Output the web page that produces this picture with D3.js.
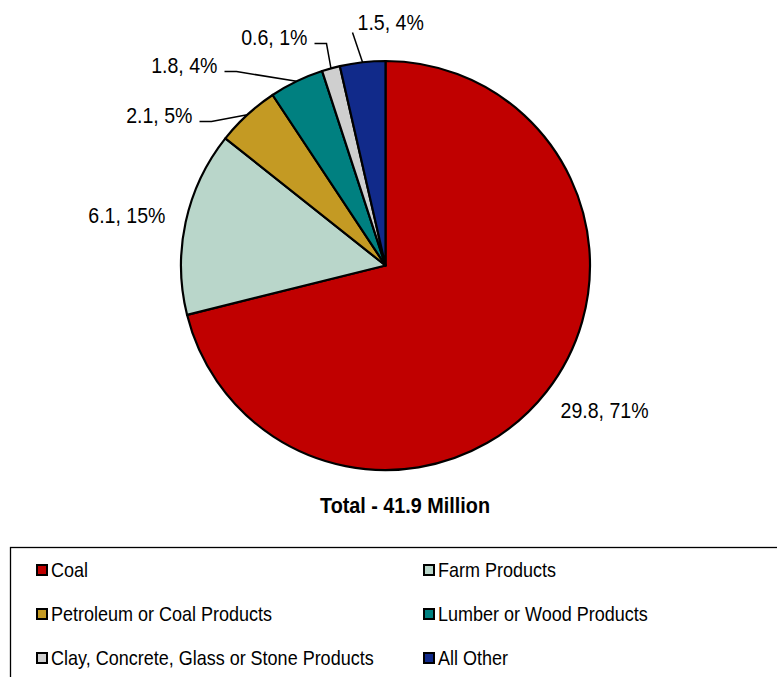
<!DOCTYPE html>
<html>
<head>
<meta charset="utf-8">
<script src="https://cdn.jsdelivr.net/npm/d3@7"></script>
<style>
  html, body { margin: 0; padding: 0; background: #fff; }
  svg { display: block; font-family: "Liberation Sans", Arial, sans-serif; }
</style>
</head>
<body>
<svg id="chart" width="777" height="677"></svg>
<script>
// ---- data ----
const categories = ["Coal", "Farm Products", "Petroleum or Coal Products",
                    "Lumber or Wood Products", "Clay, Concrete, Glass or Stone Products", "All Other"];
const values = [29.8, 6.1, 2.1, 1.8, 0.6, 1.5];
const percents = ["71%", "15%", "5%", "4%", "1%", "4%"];
const colors = ["#C00000", "#B9D6CA", "#C49A23", "#008080", "#CFCFCF", "#112A8A"];
const totalLabel = "Total - 41.9 Million";

// ---- layout (label placement relative to pie centre) ----
const labelLayout = [
  { dx: 175, dy: 152, anchor: "start", leader: "none" },
  { dx: -220, dy: -43, anchor: "end", leader: "none" },
  { dx: -193, dy: -143, anchor: "end", leader: "elbow" },
  { dx: -168, dy: -193, anchor: "end", leader: "elbow" },
  { dx: -78, dy: -221, anchor: "end", leader: "elbow" },
  { dx: -28, dy: -236, anchor: "start", leader: "straight" }
];

const svg = d3.select("#chart");
const cx = 385.5, cy = 265.5, r = 204.5;

const g = svg.append("g").attr("transform", `translate(${cx},${cy})`);

const data = categories.map((c, i) => ({ name: c, value: values[i], pct: percents[i], color: colors[i], lay: labelLayout[i] }));

const pie = d3.pie().value(d => d.value).sort(null).startAngle(0).endAngle(2 * Math.PI);
const arcs = pie(data);
const arc = d3.arc().innerRadius(0).outerRadius(r);

g.selectAll("path.slice").data(arcs).enter().append("path")
  .attr("class", "slice")
  .attr("d", arc)
  .attr("fill", d => d.data.color)
  .attr("stroke", "#000")
  .attr("stroke-width", 2.2)
  .attr("stroke-linejoin", "round");

// leader lines
const arcPoint = a => {
  const m = (a.startAngle + a.endAngle) / 2;
  return [r * Math.sin(m), -r * Math.cos(m)];
};
arcs.forEach(a => {
  const L = a.data.lay;
  const p = arcPoint(a);
  let pts = null;
  if (L.leader === "elbow") {
    const s = [L.dx + 7, L.dy - 1];
    const e = [s[0] + 12, s[1]];
    pts = [s, e, p];
  } else if (L.leader === "straight") {
    pts = [[L.dx - 5, L.dy + 3], p];
  }
  if (pts) {
    g.append("path")
      .attr("d", d3.line()(pts))
      .attr("fill", "none")
      .attr("stroke", "#000")
      .attr("stroke-width", 1.5);
  }
});

// labels
arcs.forEach(a => {
  const L = a.data.lay;
  g.append("text")
    .attr("transform", `translate(${L.dx},${L.dy}) scale(0.91,1)`)
    .attr("text-anchor", L.anchor)
    .attr("font-size", 21.5)
    .attr("fill", "#000")
    .text(`${d3.format(".1f")(a.data.value)}, ${a.data.pct}`);
});

// total title
svg.append("text")
  .attr("transform", `translate(405,513) scale(0.9,1)`)
  .attr("text-anchor", "middle")
  .attr("font-size", 22)
  .attr("font-weight", "bold")
  .text(totalLabel);

// legend
svg.append("rect")
  .attr("x", 10.5).attr("y", 547.5)
  .attr("width", 800).attr("height", 200)
  .attr("fill", "#fff")
  .attr("stroke", "#000")
  .attr("stroke-width", 1.3);

const colX = [36, 423];
const rowY = [577, 621, 665];
const leg = svg.append("g");
data.forEach((d, i) => {
  const x = colX[i % 2], y = rowY[Math.floor(i / 2)];
  leg.append("rect")
    .attr("x", x + 1).attr("y", y - 12)
    .attr("width", 10).attr("height", 10)
    .attr("fill", d.color)
    .attr("stroke", "#000")
    .attr("stroke-width", 2);
  leg.append("text")
    .attr("transform", `translate(${x + 15},${y}) scale(0.9,1)`)
    .attr("font-size", 20)
    .attr("fill", "#000")
    .text(d.name);
});
</script>
</body>
</html>
